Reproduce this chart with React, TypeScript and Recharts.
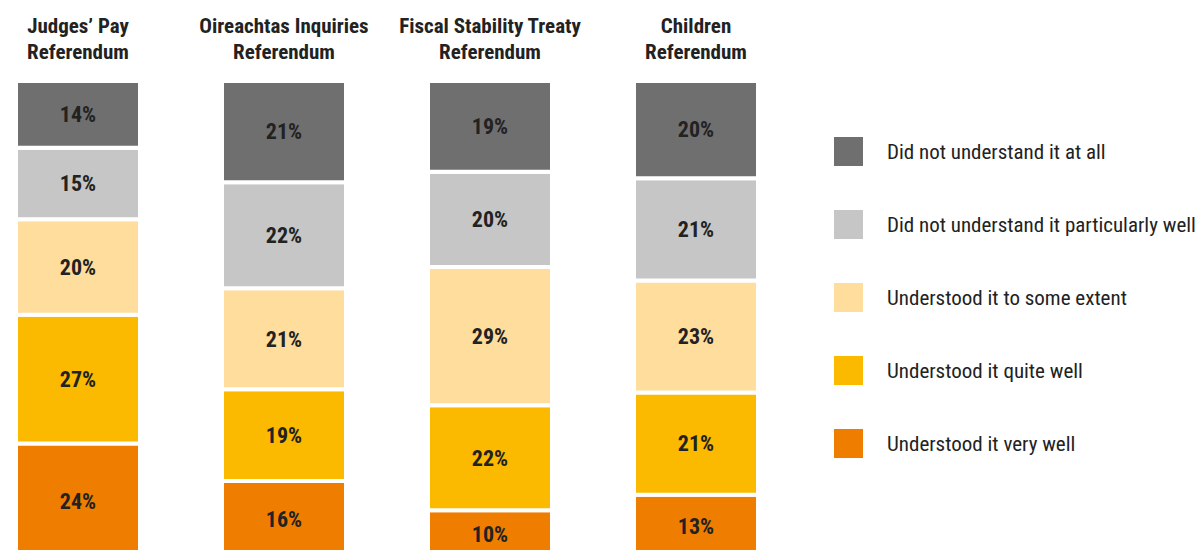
import React from "react";
import { BarChart, Bar, XAxis, YAxis, LabelList, Legend } from "recharts";

const FONT =
	"'Liberation Sans Narrow', 'Roboto Condensed', 'DejaVu Sans Condensed', 'Arial Narrow', sans-serif";

const categories = [
	"Judges’ Pay Referendum",
	"Oireachtas Inquiries Referendum",
	"Fiscal Stability Treaty Referendum",
	"Children Referendum",
];

// bottom to top of each stack
const veryWell = [24, 16, 10, 13];
const quiteWell = [27, 19, 22, 21];
const someExtent = [20, 21, 29, 23];
const notParticularly = [15, 22, 20, 21];
const notAtAll = [14, 21, 19, 20];

const series = [
	{ key: "veryWell", name: "Understood it very well", color: "#ef7d00", values: veryWell },
	{ key: "quiteWell", name: "Understood it quite well", color: "#fbb900", values: quiteWell },
	{ key: "someExtent", name: "Understood it to some extent", color: "#fedd9d", values: someExtent },
	{ key: "notParticularly", name: "Did not understand it particularly well", color: "#c6c6c6", values: notParticularly },
	{ key: "notAtAll", name: "Did not understand it at all", color: "#6f6f6f", values: notAtAll },
];

const data = categories.map((name, i) => {
	const row: { [key: string]: any } = { name };
	series.forEach((s) => {
		row[s.key] = s.values[i];
	});
	return row;
});

function CategoryTick({ x, payload }: any) {
	const label: string = payload.value;
	const cut = label.lastIndexOf(" ");
	const first = label.slice(0, cut);
	const second = label.slice(cut + 1);
	return (
		<text
			x={x}
			textAnchor="middle"
			fontFamily={FONT}
			fontWeight="bold"
			fontSize={21}
			fill="#222"
		>
			<tspan x={x} y={33}>
				{first}
			</tspan>
			<tspan x={x} y={59}>
				{second}
			</tspan>
		</text>
	);
}

function LegendContent({ payload }: any) {
	const items = [...(payload || [])];
	// keep the legend in the same top-to-bottom order as the stacks
	items.sort(
		(a: any, b: any) =>
			series.findIndex((s) => s.name === b.value) -
			series.findIndex((s) => s.name === a.value),
	);
	return (
		<div style={{ fontFamily: FONT, fontSize: 21, color: "#222" }}>
			{items.map((item: any, i: number) => (
				<div
					key={i}
					style={{
						display: "flex",
						alignItems: "center",
						height: 29,
						marginBottom: i < items.length - 1 ? 44 : 0,
					}}
				>
					<div style={{ width: 29, height: 29, background: item.color, flex: "none" }} />
					<span style={{ marginLeft: 24, whiteSpace: "nowrap" }}>{item.value}</span>
				</div>
			))}
		</div>
	);
}

export default function App() {
	return (
		<div style={{ position: "absolute", left: 0, top: 0, background: "#fff" }}>
			<BarChart
				width={1195}
				height={550}
				data={data}
				stackOffset="expand"
				margin={{ top: 0, right: 36, bottom: -8, left: -25 }}
			>
				<XAxis
					dataKey="name"
					orientation="top"
					height={81}
					axisLine={false}
					tickLine={false}
					interval={0}
					tick={<CategoryTick />}
				/>
				<YAxis hide domain={[0, 1]} />
				<Legend
					layout="vertical"
					align="right"
					verticalAlign="top"
					content={<LegendContent />}
					wrapperStyle={{ left: 834, top: 137, width: 360 }}
				/>
				{series.map((s) => (
					<Bar
						key={s.key}
						dataKey={s.key}
						name={s.name}
						stackId="a"
						fill={s.color}
						stroke="#fff"
						strokeWidth={4}
						barSize={124}
						isAnimationActive={false}
					>
						<LabelList
							dataKey={s.key}
							position="center"
							formatter={(v: any) => `${v}%`}
							fill="#222"
							fontFamily={FONT}
							fontWeight="bold"
							fontSize={22}
						/>
					</Bar>
				))}
			</BarChart>
		</div>
	);
}
